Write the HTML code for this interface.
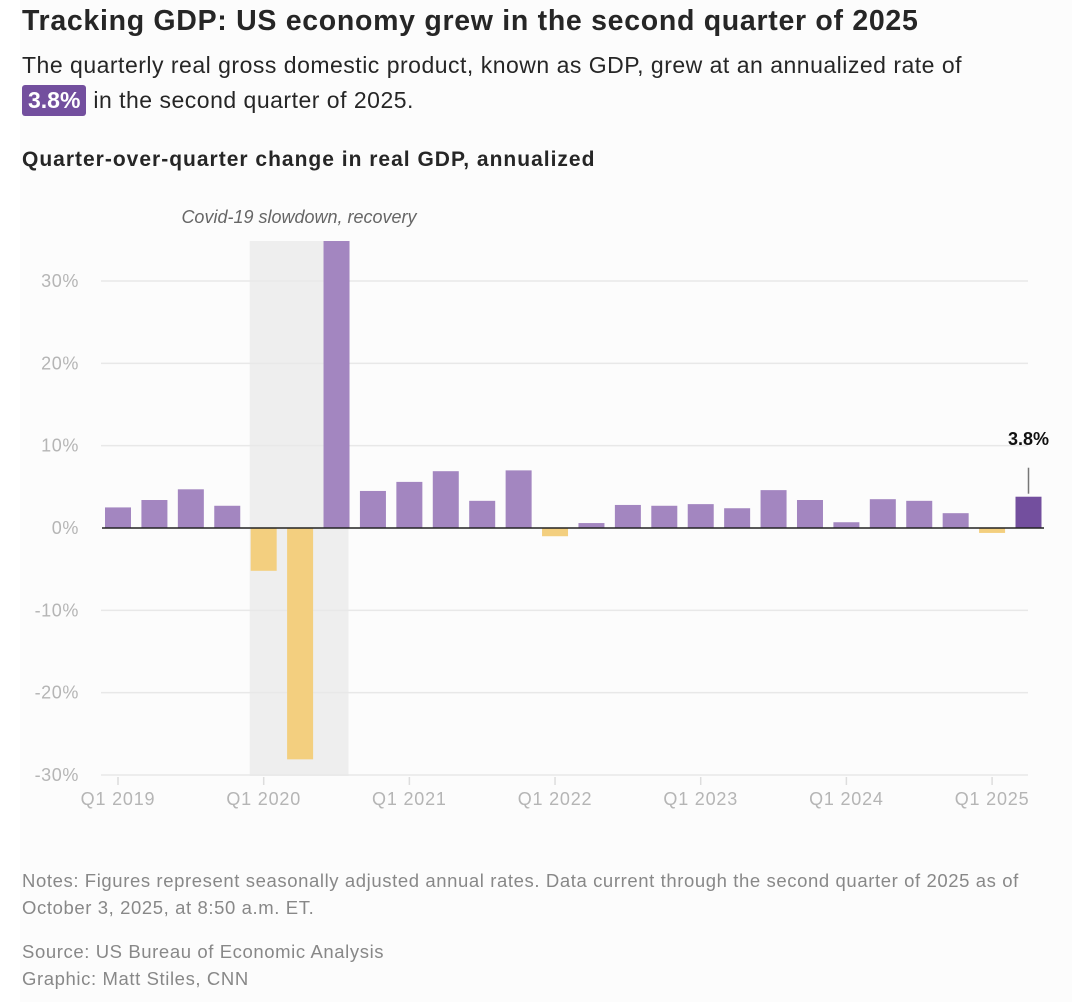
<!DOCTYPE html>
<html><head><meta charset="utf-8">
<style>
body{margin:0;width:1072px;height:1002px;background:#fff;font-family:"Liberation Sans",Arial,sans-serif;overflow:hidden}
#wrap{position:absolute;left:20px;top:0;width:1052px;height:1002px;background:#fcfcfc}
h1{position:absolute;left:22px;top:5px;margin:0;font-size:28.5px;letter-spacing:0.7px;font-weight:bold;color:#262626;white-space:nowrap}
.sub{position:absolute;left:22px;top:48px;font-size:23px;letter-spacing:0.5px;color:#262626;line-height:35px;white-space:nowrap}
.pill{background:#734f9e;color:#fff;font-weight:bold;border-radius:3px;padding:0 6px;display:inline-block;line-height:31px;letter-spacing:0}
h2{position:absolute;left:22px;top:148px;margin:0;font-size:21px;letter-spacing:1px;font-weight:bold;color:#262626;white-space:nowrap}
.note{position:absolute;left:22px;font-size:18.5px;letter-spacing:0.6px;color:#888;line-height:27px;white-space:nowrap}
svg{position:absolute;left:0;top:0}
</style></head><body>
<div id="wrap"></div>
<h1>Tracking GDP: US economy grew in the second quarter of 2025</h1>
<div class="sub">The quarterly real gross domestic product, known as GDP, grew at an annualized rate of <br><span class="pill">3.8%</span> in the second quarter of 2025.</div>
<h2>Quarter-over-quarter change in real GDP, annualized</h2>
<svg id="chart" width="1072" height="1002"></svg>
<div class="note" style="top:867px">Notes: Figures represent seasonally adjusted annual rates. Data current through the second quarter of 2025 as of<br>October 3, 2025, at 8:50 a.m. ET.</div>
<div class="note" style="top:938px">Source: US Bureau of Economic Analysis<br>Graphic: Matt Stiles, CNN</div>
<script>
const values=[2.5,3.4,4.7,2.7,-5.2,-28.1,35.2,4.5,5.6,6.9,3.3,7.0,-1.0,0.6,2.8,2.7,2.9,2.4,4.6,3.4,0.7,3.5,3.3,1.8,-0.6,3.8];
const yTicks=[30,20,10,0,-10,-20,-30];
const xLabels=["Q1 2019","Q1 2020","Q1 2021","Q1 2022","Q1 2023","Q1 2024","Q1 2025"];
const xLabelIdx=[0,4,8,12,16,20,24];
const svg=document.getElementById('chart');
const NS='http://www.w3.org/2000/svg';
const yS=v=>528-v*8.233;
const xS=i=>118+i*36.42;
const yTop=241;
function mk(t,a){const e=document.createElementNS(NS,t);for(const k in a)e.setAttribute(k,a[k]);svg.appendChild(e);return e;}
let e;
e=mk('rect',{x:xS(4)-14,y:yTop,width:xS(6)+12-(xS(4)-14),height:776-yTop,fill:'#eeeeee'});


e=mk('text',{x:299,y:223,'text-anchor':'middle','font-size':18,'font-style':'italic',fill:'#666'});e.textContent='Covid-19 slowdown, recovery';


yTicks.forEach(t=>{
 const y=yS(t);
 if(t!==0){e=mk('line',{x1:101,x2:1028,y1:y,y2:y,stroke:'#e8e8e8','stroke-width':1.5});
 
 }
 e=mk('text',{x:79,y:y+6,'text-anchor':'end','font-size':18,'letter-spacing':0.6,fill:'#b5b5b5'});e.textContent=t+'%';
 
 
});
values.forEach((v,i)=>{
 const top=Math.max(yS(Math.max(v,0)),yTop);
 const bot=yS(Math.min(v,0));
 const last=i===values.length-1;
 e=mk('rect',{x:xS(i)-13,y:top,width:26,height:bot-top,fill:last?'#734f9e':(v<0?'#f3cf7f':'#a386c0')});
 
 
});
e=mk('line',{x1:102,x2:1044,y1:yS(0),y2:yS(0),stroke:'#222','stroke-width':1.5});


const li=values.length-1;
e=mk('line',{x1:xS(li),x2:xS(li),y1:yS(values[li])-3,y2:yS(values[li])-29,stroke:'#777','stroke-width':1.5});


e=mk('text',{x:xS(li),y:445,'text-anchor':'middle','font-size':18,'font-weight':'bold',fill:'#111'});e.textContent=values[li].toFixed(1)+'%';


xLabels.forEach((l,k)=>{
 const x=xS(xLabelIdx[k]);
 e=mk('line',{x1:x,x2:x,y1:777,y2:785,stroke:'#ddd','stroke-width':1.5});
 
 
 e=mk('text',{x:x,y:805,'text-anchor':'middle','font-size':18,'letter-spacing':0.8,fill:'#b5b5b5'});e.textContent=l;
 
 
});
</script>
</body></html>
